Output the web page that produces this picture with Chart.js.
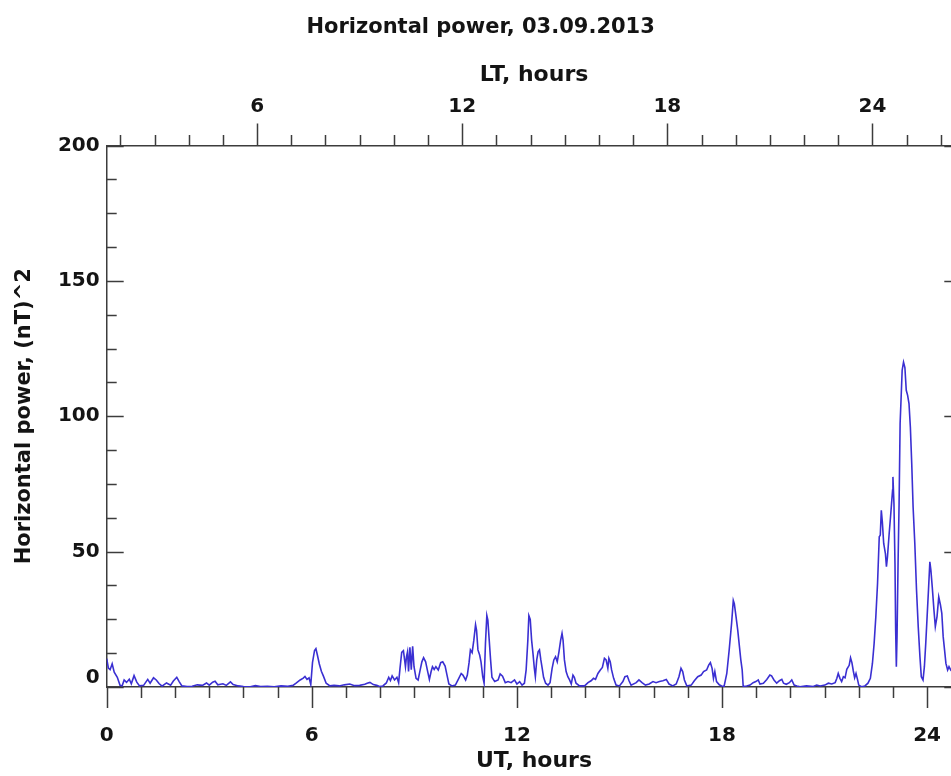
<!DOCTYPE html>
<html>
<head>
<meta charset="utf-8">
<script src="https://cdn.jsdelivr.net/npm/chart.js@4/dist/chart.umd.min.js"></script>
<style>
  html, body { margin: 0; padding: 0; overflow: hidden; background: #ffffff; width: 951px; height: 776px; }
  #wrap { position: absolute; left: 0; top: 0; width: 1068px; height: 776px; }
  canvas { display: block; }
</style>
</head>
<body>
<div id="wrap"><canvas id="c" width="1068" height="776" style="width:1068px;height:776px"></canvas></div>
<script>
// ---- data ----
const chartTitle = 'Horizontal power, 03.09.2013';
const utTitle = 'UT, hours';
const ltTitle = 'LT, hours';
const yTitle = 'Horizontal power, (nT)^2';
const ltOffset = 1.6;               // LT = UT + 1.6 h
const utRange = [0, 25];
const powerRange = [0, 200];
const utTickLabels = [0, 6, 12, 18, 24];
const ltTickLabels = [6, 12, 18, 24];
const powerTickLabels = [0, 50, 100, 150, 200];

const utHours = [
  0.00,0.05,0.10,0.16,0.22,0.31,0.39,0.45,0.51,0.58,0.66,0.72,0.80,0.88,0.96,1.08,1.20,1.27,1.37,1.45,
  1.53,1.62,1.75,1.87,1.95,2.05,2.12,2.20,2.35,2.50,2.65,2.80,2.92,3.00,3.10,3.17,3.25,3.40,3.50,3.62,
  3.70,3.85,4.00,4.20,4.35,4.50,4.70,4.90,5.10,5.30,5.45,5.55,5.66,5.75,5.80,5.86,5.92,5.97,6.02,6.08,
  6.12,6.16,6.22,6.28,6.34,6.42,6.53,6.65,6.80,6.95,7.11,7.25,7.40,7.55,7.62,7.70,7.80,7.90,7.98,8.08,
  8.18,8.25,8.30,8.35,8.42,8.49,8.54,8.58,8.63,8.68,8.74,8.77,8.80,8.83,8.87,8.91,8.95,8.99,9.05,9.11,
  9.16,9.22,9.27,9.33,9.39,9.44,9.49,9.53,9.58,9.63,9.70,9.77,9.83,9.90,9.96,10.01,10.10,10.20,10.30,10.37,
  10.42,10.50,10.55,10.60,10.64,10.69,10.74,10.79,10.82,10.86,10.91,10.95,11.00,11.04,11.08,11.12,11.15,11.19,11.23,11.27,
  11.35,11.45,11.51,11.58,11.66,11.74,11.83,11.93,12.00,12.08,12.15,12.22,12.27,12.32,12.35,12.39,12.43,12.47,12.51,12.54,
  12.58,12.62,12.66,12.70,12.74,12.78,12.84,12.91,12.97,13.03,13.08,13.13,13.18,13.23,13.28,13.32,13.35,13.39,13.44,13.49,
  13.54,13.59,13.64,13.68,13.73,13.83,13.98,14.08,14.17,14.24,14.30,14.37,14.44,14.50,14.56,14.61,14.66,14.69,14.73,14.77,
  14.83,14.90,15.00,15.10,15.16,15.23,15.28,15.34,15.49,15.57,15.66,15.76,15.87,15.98,16.07,16.17,16.27,16.37,16.45,16.56,
  16.66,16.74,16.80,16.85,16.90,16.97,17.10,17.19,17.29,17.39,17.46,17.55,17.61,17.66,17.71,17.75,17.79,17.84,17.92,17.99,
  18.06,18.14,18.21,18.28,18.33,18.36,18.41,18.46,18.51,18.55,18.59,18.62,18.72,18.82,18.91,18.99,19.06,19.11,19.21,19.31,
  19.40,19.45,19.52,19.60,19.68,19.75,19.80,19.88,19.97,20.04,20.11,20.19,20.28,20.47,20.67,20.77,20.87,21.01,21.11,21.21,
  21.31,21.36,21.40,21.45,21.50,21.55,21.60,21.65,21.72,21.76,21.80,21.84,21.88,21.92,21.96,22.00,22.08,22.18,22.27,22.34,
  22.40,22.45,22.50,22.55,22.60,22.63,22.66,22.69,22.73,22.78,22.81,22.84,22.89,22.93,22.96,22.99,23.00,23.03,23.06,23.08,
  23.10,23.12,23.15,23.18,23.21,23.24,23.27,23.31,23.35,23.39,23.43,23.47,23.51,23.55,23.59,23.64,23.69,23.74,23.79,23.83,
  23.88,23.92,23.96,24.00,24.04,24.08,24.11,24.15,24.20,24.24,24.29,24.34,24.39,24.43,24.47,24.51,24.55,24.60,24.64,24.69,
  24.75,24.85,25.00
];
const power = [
  10.5,7.0,6.4,8.6,5.5,3.6,0.6,0.4,2.6,1.7,2.9,1.2,4.2,1.8,0.4,0.6,2.8,1.4,3.4,2.6,
  1.3,0.3,1.5,0.7,2.2,3.6,2.0,0.4,0.2,0.3,0.8,0.6,1.5,0.7,1.8,2.1,0.8,1.2,0.6,1.9,
  0.9,0.4,0.2,0.1,0.5,0.2,0.3,0.1,0.4,0.3,0.6,1.5,2.6,3.3,3.9,2.8,3.4,0.9,9.0,13.5,
  14.2,12.0,8.5,5.8,4.0,1.4,0.4,0.6,0.4,0.8,1.1,0.5,0.6,1.0,1.4,1.7,0.9,0.6,0.2,0.4,
  1.5,3.6,2.4,4.1,2.6,3.6,1.6,6.9,12.8,13.4,7.5,11.2,13.0,5.7,14.7,6.4,15.0,7.5,3.2,2.6,
  5.7,9.3,10.8,9.3,5.7,2.8,5.7,7.5,6.5,7.5,6.3,9.0,9.3,7.7,4.1,1.1,0.4,0.7,3.2,5.0,
  4.4,2.6,4.4,9.0,13.7,12.7,17.3,23.0,20.9,13.7,11.8,9.3,3.8,1.4,16.1,26.4,24.7,17.3,10.0,3.6,
  2.0,2.6,4.8,4.0,1.6,2.0,1.6,2.6,1.1,2.0,0.7,1.4,6.3,17.3,26.4,25.0,17.3,12.4,6.9,3.8,
  10.0,13.0,13.7,10.0,6.9,3.6,1.4,0.7,1.6,6.9,10.0,11.2,9.3,13.0,17.3,19.8,17.3,10.0,5.7,3.8,
  2.6,1.1,4.4,3.6,1.4,0.4,0.4,1.6,2.3,3.2,2.8,5.0,6.3,7.2,10.6,10.0,6.9,10.6,9.3,6.3,
  3.2,0.7,0.4,2.0,3.8,4.1,2.3,0.7,1.6,2.6,1.6,0.7,1.1,2.0,1.6,2.0,2.3,2.8,1.1,0.4,
  1.1,3.8,6.9,5.7,2.6,0.4,0.7,2.3,3.8,4.4,5.7,6.3,8.1,9.0,6.9,3.2,5.7,2.0,0.8,0.4,
  0.2,5.0,13.7,23.5,32.0,30.8,26.0,21.0,14.9,10.0,6.3,0.2,0.4,0.7,1.6,2.0,2.6,1.1,1.4,2.8,
  4.4,4.1,2.6,1.4,2.3,2.8,1.4,1.0,1.6,2.6,0.7,0.4,0.1,0.4,0.2,0.7,0.4,0.7,1.4,1.1,
  1.6,3.2,5.0,3.2,2.0,3.8,3.4,6.5,8.0,10.8,9.0,6.0,3.4,5.0,3.0,0.7,0.1,0.4,1.4,3.2,
  8.7,16.1,26.0,38.3,55.5,56.1,65.3,61.0,53.0,49.3,44.4,48.0,56.7,62.9,67.8,72.7,77.6,67.8,45.6,21.0,
  7.5,18.6,45.6,67.8,97.3,107.0,117.0,120.0,118.0,109.6,107.7,104.7,96.0,82.5,66.5,53.0,35.8,22.3,11.2,3.8,
  2.6,7.5,16.1,26.0,35.8,46.2,43.2,37.0,28.4,22.3,26.0,33.3,30.3,27.2,18.6,13.7,8.7,6.3,7.5,6.3,
  5.5,4.0,3.0
];

// ---- styling ----
const FONT = 'DejaVu Sans';
const TEXT = '#141414';
const AXIS = '#3c3c3c';
const LINE = '#3a2fd2';

const points = utHours.map((t, i) => ({ x: t, y: power[i] }));

// hour / sub-division tick marks drawn from the library scales
const tickMarks = {
  id: 'tickMarks',
  afterDraw(chart) {
    const { ctx, chartArea: a, scales } = chart;
    const x = scales.x, lt = scales.xLT, y = scales.y;
    ctx.save();
    ctx.strokeStyle = AXIS;
    ctx.lineWidth = 1.5;
    ctx.beginPath();
    for (let h = Math.ceil(x.min); h <= x.max; h++) {
      const px = Math.round(x.getPixelForValue(h)) + 0.5;
      const len = h % 6 === 0 ? 21 : 11;
      ctx.moveTo(px, a.bottom); ctx.lineTo(px, a.bottom + len);
    }
    for (let h = Math.ceil(lt.min); h <= lt.max; h++) {
      const px = Math.round(lt.getPixelForValue(h)) + 0.5;
      const len = h % 6 === 0 ? 22 : 10.5;
      ctx.moveTo(px, a.top); ctx.lineTo(px, a.top - len);
    }
    for (let v = y.min; v <= y.max; v += 12.5) {
      const py = Math.round(y.getPixelForValue(v)) + 0.5;
      const len = v % 50 === 0 ? 17 : 10;
      ctx.moveTo(a.left, py); ctx.lineTo(a.left + len, py);
      ctx.moveTo(a.right, py); ctx.lineTo(a.right - len, py);
    }
    ctx.moveTo(a.right, a.top); ctx.lineTo(a.right, a.bottom);
    ctx.stroke();
    ctx.restore();
  }
};

new Chart(document.getElementById('c'), {
  type: 'line',
  data: {
    datasets: [{
      data: points,
      borderColor: LINE,
      borderWidth: 1.6,
      pointRadius: 0,
      tension: 0,
      fill: false
    }]
  },
  options: {
    responsive: false,
    animation: false,
    devicePixelRatio: 1,
    layout: { padding: { left: 0, right: 106.7, top: 0, bottom: 0 } },
    plugins: {
      legend: { display: false },
      tooltip: { enabled: false },
      title: {
        display: true,
        text: chartTitle,
        color: TEXT,
        font: { family: FONT, size: 21, weight: 'bold', lineHeight: 1.2 },
        padding: { top: 15.4, bottom: 4.4 }
      }
    },
    scales: {
      x: {
        type: 'linear',
        position: 'bottom',
        min: utRange[0], max: utRange[1],
        bounds: 'data',
        afterBuildTicks: s => { s.ticks = utTickLabels.map(v => ({ value: v })); },
        afterFit: s => { s.height = 89; },
        grid: { display: true, drawOnChartArea: false, drawTicks: false },
        border: { display: true, color: AXIS, width: 1.5 },
        ticks: {
          autoSkip: false, maxRotation: 0, padding: 37, color: TEXT,
          font: { family: FONT, size: 20, weight: 'bold', lineHeight: 1.2 },
          callback: v => String(v)
        },
        title: {
          display: true, text: utTitle, color: TEXT,
          font: { family: FONT, size: 22, weight: 'bold', lineHeight: 1.2 },
          padding: { top: 0, bottom: 1.8 }
        }
      },
      xLT: {
        type: 'linear',
        position: 'top',
        min: utRange[0] + ltOffset, max: utRange[1] + ltOffset,
        bounds: 'data',
        afterBuildTicks: s => { s.ticks = ltTickLabels.map(v => ({ value: v })); },
        afterFit: s => { s.height = 100.5; },
        grid: { display: true, drawOnChartArea: false, drawTicks: false },
        border: { display: true, color: AXIS, width: 1.5 },
        ticks: {
          autoSkip: false, maxRotation: 0, padding: 26.8, color: TEXT,
          font: { family: FONT, size: 20, weight: 'bold', lineHeight: 1.2 },
          callback: v => String(v)
        },
        title: {
          display: true, text: ltTitle, color: TEXT,
          font: { family: FONT, size: 22, weight: 'bold', lineHeight: 1.2 },
          padding: { top: 16.8, bottom: 0 }
        }
      },
      y: {
        type: 'linear',
        position: 'left',
        min: powerRange[0], max: powerRange[1],
        bounds: 'data',
        afterBuildTicks: s => { s.ticks = powerTickLabels.map(v => ({ value: v })); },
        afterFit: s => { s.width = 106.7; },
        grid: { display: true, drawOnChartArea: false, drawTicks: false },
        border: { display: true, color: AXIS, width: 1.5 },
        ticks: {
          autoSkip: false, padding: 7, color: TEXT,
          font: c => ({ family: FONT, size: 20, weight: 'bold',
                        lineHeight: (c.tick && c.tick.value === 0) ? 0.9 : 1.2 }),
          callback: v => (v === 0 ? ['0', ''] : String(v))
        },
        title: {
          display: true, text: yTitle, color: TEXT,
          font: { family: FONT, size: 21, weight: 'bold', lineHeight: 1.2 },
          padding: { top: 12.4, bottom: 0 }
        }
      }
    }
  },
  plugins: [tickMarks]
});
</script>
</body>
</html>
